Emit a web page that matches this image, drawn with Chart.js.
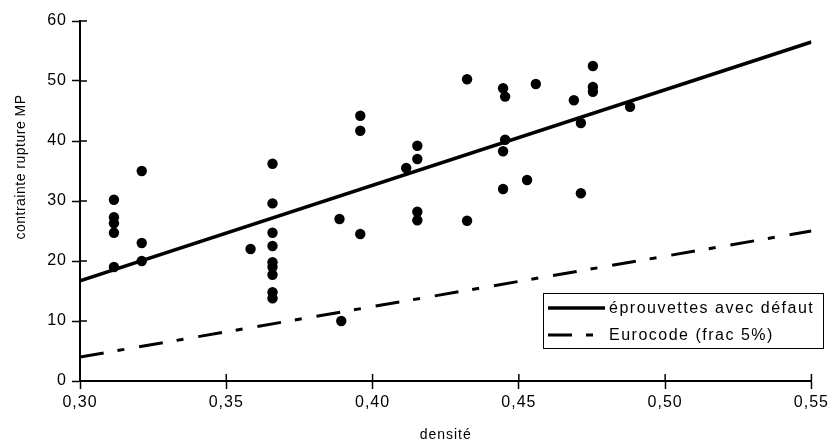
<!DOCTYPE html>
<html>
<head>
<meta charset="utf-8">
<script src="https://cdn.jsdelivr.net/npm/chart.js@4/dist/chart.umd.min.js"></script>
<style>
  html, body { margin: 0; padding: 0; background: #fff; }
  #wrap { width: 833px; height: 448px; position: relative; }
</style>
</head>
<body>
<div id="wrap"><canvas id="chart"></canvas></div>
<script>
// densité / contrainte de rupture (MPa)
const densite = [
  0.3116, 0.3116, 0.3116, 0.3116, 0.3116,
  0.3211, 0.3211, 0.3211,
  0.3583,
  0.3658, 0.3658, 0.3658, 0.3658, 0.3658, 0.3658, 0.3658, 0.3658, 0.3658,
  0.3887, 0.3893,
  0.3958, 0.3958, 0.3958,
  0.4115, 0.4153, 0.4153, 0.4153, 0.4153,
  0.4323, 0.4323,
  0.4446, 0.4453, 0.4453, 0.4446, 0.4446,
  0.4528, 0.4558,
  0.4688, 0.4712, 0.4712,
  0.4753, 0.4753, 0.4753,
  0.4880,
];
const contrainte = [
  30.2, 27.3, 26.3, 24.7, 19.0,
  35.0, 23.0, 20.0,
  22.0,
  36.2, 29.6, 24.7, 22.5, 19.8, 19.0, 17.7, 14.8, 13.8,
  27.0, 10.0,
  44.2, 41.7, 24.5,
  35.5, 39.2, 37.0, 28.2, 26.8,
  50.3, 26.7,
  48.8, 47.4, 40.2, 38.3, 32.0,
  33.5, 49.5,
  46.8, 43.0, 31.3,
  52.5, 49.0, 48.2,
  45.7,
];

// droite de régression (éprouvettes avec défaut) and Eurocode 5% line
const regX = [0.30, 0.55];
const regY = [16.7, 56.5];
const euroX = [0.30, 0.55];
const euroY = [4.0, 25.0];

const labels = ['éprouvettes avec défaut', 'Eurocode (frac 5%)'];
const yTitle = 'contrainte rupture MP';
const xTitle = 'densité';

const FONT = "'Liberation Sans', Arial, sans-serif";
const toPts = (xs, ys) => xs.map((x, i) => ({ x, y: ys[i] }));
const fmtDens = (v) => v.toFixed(2).replace('.', ',');

// canvas letter spacing gets reset whenever the canvas is resized, so reapply it
const spacing = {
  id: 'spacing',
  beforeLayout(chart) { chart.ctx.letterSpacing = '1px'; },
  beforeDraw(chart) { chart.ctx.letterSpacing = '1px'; },
};

// ticks in the original cross the axis line; Chart.js only draws the outer half
const innerTicks = {
  id: 'innerTicks',
  afterDraw(chart) {
    const { ctx, scales: { x, y } } = chart;
    ctx.save();
    ctx.strokeStyle = '#000';
    ctx.lineWidth = 1.5;
    ctx.beginPath();
    x.ticks.forEach((t, i) => {
      const px = x.getPixelForTick(i);
      ctx.moveTo(px, y.bottom); ctx.lineTo(px, y.bottom - 7);
    });
    y.ticks.forEach((t, i) => {
      const py = y.getPixelForTick(i);
      ctx.moveTo(x.left, py); ctx.lineTo(x.left + 7, py);
    });
    ctx.stroke();
    ctx.restore();
  },
};

// y title sits higher than the axis centre in the original, so draw it here
const sideTitle = {
  id: 'sideTitle',
  afterDraw(chart, args, opts) {
    const { ctx } = chart;
    ctx.save();
    ctx.translate(opts.x, opts.y);
    ctx.rotate(-Math.PI / 2);
    ctx.font = '14px ' + FONT;
    ctx.letterSpacing = '0.5px';
    ctx.fillStyle = '#000';
    ctx.textAlign = 'center';
    ctx.textBaseline = 'middle';
    ctx.fillText(opts.text, 0, 0);
    ctx.restore();
  },
};

// boxed legend sitting in the lower right of the plot
const boxLegend = {
  id: 'boxLegend',
  afterDraw(chart, args, opts) {
    const { ctx } = chart;
    const { left, top, width, height } = opts;
    ctx.save();
    ctx.fillStyle = '#fff';
    ctx.fillRect(left, top, width, height);
    ctx.strokeStyle = '#000';
    ctx.lineWidth = 1;
    ctx.strokeRect(left + 0.5, top + 0.5, width, height);
    ctx.font = '16px ' + FONT;
    ctx.letterSpacing = '1.5px';
    ctx.fillStyle = '#000';
    ctx.textBaseline = 'middle';
    [1, 2].forEach((di, row) => {
      const ds = chart.data.datasets[di];
      const cy = top + 15 + row * 27;
      ctx.beginPath();
      ctx.lineWidth = ds.borderWidth;
      ctx.strokeStyle = ds.borderColor;
      ctx.setLineDash(ds.borderDash || []);
      ctx.moveTo(left + 5, cy);
      ctx.lineTo(left + 62, cy);
      ctx.stroke();
      ctx.setLineDash([]);
      ctx.fillText(ds.label, left + 66, cy + 1);
    });
    ctx.restore();
  },
};

new Chart(document.getElementById('chart'), {
  type: 'scatter',
  data: {
    datasets: [
      {
        label: 'essais',
        data: toPts(densite, contrainte),
        pointRadius: 5.2,
        pointHoverRadius: 5.2,
        pointBackgroundColor: '#000',
        pointBorderWidth: 0,
        showLine: false,
      },
      {
        label: labels[0],
        data: toPts(regX, regY),
        showLine: true,
        borderColor: '#000',
        borderWidth: 3.5,
        pointRadius: 0,
      },
      {
        label: labels[1],
        data: toPts(euroX, euroY),
        showLine: true,
        borderColor: '#000',
        borderWidth: 3,
        borderDash: [24, 14, 7, 15],
        pointRadius: 0,
      },
    ],
  },
  options: {
    responsive: true,
    maintainAspectRatio: false,
    animation: false,
    events: [],
    layout: { padding: { top: 21, right: 20, left: 0, bottom: 0 } },
    plugins: {
      legend: { display: false },
      tooltip: { enabled: false },
      boxLegend: { left: 543, top: 293, width: 280, height: 55 },
      sideTitle: { text: yTitle, x: 21, y: 167 },
    },
    scales: {
      x: {
        type: 'linear',
        min: 0.30, max: 0.55,
        afterFit: (s) => { s.height = 67; },
        ticks: {
          stepSize: 0.05,
          callback: fmtDens,
          color: '#000',
          font: { family: FONT, size: 16 },
          padding: 4,
          maxRotation: 0,
        },
        grid: { drawOnChartArea: false, tickLength: 8, tickColor: '#000', tickWidth: 1.5 },
        border: { color: '#000', width: 2 },
        title: {
          display: true, text: xTitle, color: '#000',
          font: { family: FONT, size: 14 }, padding: { top: 8 },
        },
      },
      y: {
        min: 0, max: 60,
        afterFit: (s) => { s.width = 80; },
        ticks: {
          stepSize: 10,
          color: '#000',
          font: { family: FONT, size: 16 },
          padding: 5,
        },
        grid: { drawOnChartArea: false, tickLength: 8, tickColor: '#000', tickWidth: 1.5 },
        border: { color: '#000', width: 2 },
      },
    },
  },
  plugins: [spacing, innerTicks, sideTitle, boxLegend],
});
</script>
</body>
</html>
